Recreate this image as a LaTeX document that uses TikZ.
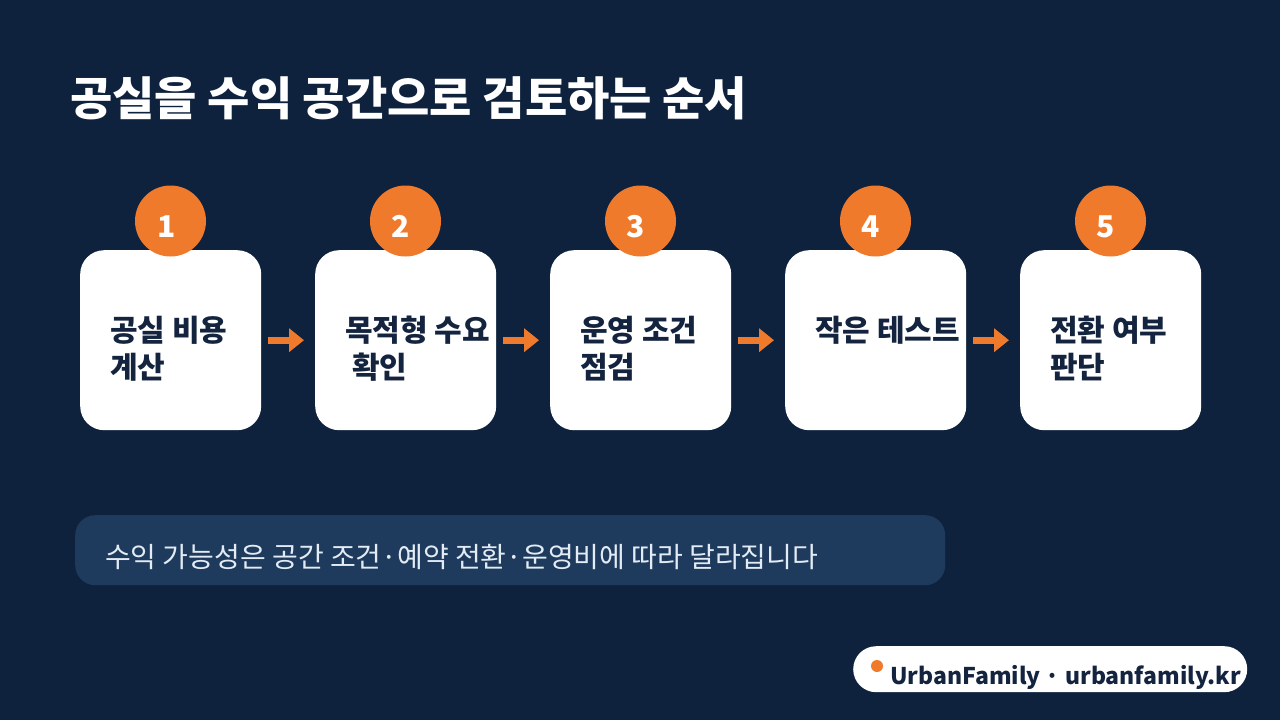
\documentclass[tikz,border=0pt]{standalone}
\usepackage{fontspec}
\setmainfont{Noto Sans CJK KR}
\usetikzlibrary{arrows.meta}
\definecolor{bgnavy}{HTML}{0E223E}
\definecolor{accent}{HTML}{F07A2C}
\definecolor{inknavy}{HTML}{14243F}
\definecolor{notefill}{HTML}{1E3A5C}
\definecolor{notetext}{HTML}{E3EBF5}
\tikzset{
  cardbox/.style={fill=white, rounded corners=24pt, minimum width=181pt, minimum height=180pt, inner sep=0pt, anchor=north west},
  numdot/.style={circle, fill=accent, minimum size=71pt, inner sep=0pt},
  numtext/.style={text=white, font=\bfseries\fontsize{30}{30}\selectfont, anchor=base, inner sep=0pt},
  cardtext/.style={text=inknavy, font=\bfseries\fontsize{30}{37}\selectfont, align=left, anchor=base west, inner sep=0pt},
  flow/.style={draw=accent, line width=7pt, -{Triangle[length=15pt,width=23pt]}, shorten <=7pt, shorten >=11pt},
}
\begin{document}
\begin{tikzpicture}[x=1pt,y=-1pt]
\fill[bgnavy] (0,0) rectangle (1280,720);
\useasboundingbox (0,0) rectangle (1280,720);
\node[text=white, font=\bfseries\fontsize{46}{46}\selectfont, anchor=base west, inner sep=0pt] (title) at (70,115) {공실을 수익 공간으로 검토하는 순서};
% cards
\node[cardbox] (c1) at (80,250) {};
\node[cardbox] (c2) at (315,250) {};
\node[cardbox] (c3) at (550,250) {};
\node[cardbox] (c4) at (785,250) {};
\node[cardbox] (c5) at (1020,250) {};
% number circles
\node[numdot] (n1) at (170.5,221) {};
\node[numdot] (n2) at (405.5,221) {};
\node[numdot] (n3) at (640.5,221) {};
\node[numdot] (n4) at (875.5,221) {};
\node[numdot] (n5) at (1110.5,221) {};
\node[numtext] (d1) at (167,237) {1};
\node[numtext] (d2) at (401,237) {2};
\node[numtext] (d3) at (636,237) {3};
\node[numtext] (d4) at (871,237) {4};
\node[numtext] (d5) at (1106,237) {5};
% card texts (base anchor = baseline of the last line)
\node[cardtext] (t1) at (110,378) {공실 비용\\계산};
\node[cardtext] (t2) at (345,378) {목적형 수요\\\ 확인};
\node[cardtext] (t3) at (580,378) {운영 조건\\점검};
\node[cardtext] (t4) at (815,341) {작은 테스트};
\node[cardtext] (t5) at (1050,378) {전환 여부\\판단};
% arrows
\draw[flow] (c1.east) -- (c2.west);
\draw[flow] (c2.east) -- (c3.west);
\draw[flow] (c3.east) -- (c4.west);
\draw[flow] (c4.east) -- (c5.west);
% note
\node[fill=notefill, rounded corners=20pt, minimum width=870pt, minimum height=70pt, inner sep=0pt, anchor=north west] (note) at (75,515) {};
\node[text=notetext, font=\fontsize{28}{28}\selectfont, anchor=base west, inner sep=0pt] (notetxt) at (105,567) {수익 가능성은 공간 조건·예약 전환·운영비에 따라 달라집니다};
% badge
\node[fill=white, rounded corners=23pt, minimum width=394pt, minimum height=46pt, inner sep=0pt, anchor=north west] (badge) at (853,646) {};
\node[circle, fill=accent, minimum size=12pt, inner sep=0pt] (bdot) at (877,666) {};
\node[text=inknavy, font=\bfseries\fontsize{23}{23}\selectfont, anchor=base west, inner sep=0pt] (btext) at (890,684) {UrbanFamily · urbanfamily.kr};
\end{tikzpicture}
\end{document}
